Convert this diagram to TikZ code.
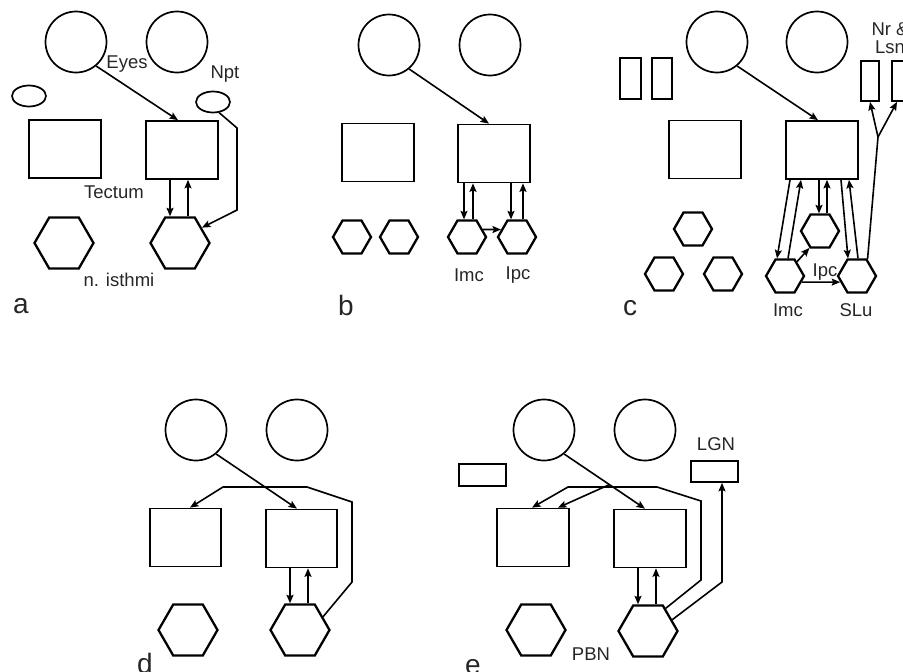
\documentclass[tikz,border=0pt]{standalone}
\usepackage{fontspec}
\setmainfont{Liberation Sans}
\usetikzlibrary{shapes.geometric,arrows.meta}
\tikzset{
  eye/.style={circle,draw,line width=1.7pt,minimum size=61pt,inner sep=0pt},
  oval/.style={ellipse,draw,line width=1.7pt,minimum width=34pt,minimum height=21pt,inner sep=0pt},
  box/.style={rectangle,draw,line width=1.7pt,minimum width=72pt,minimum height=58pt,inner sep=0pt},
  smallbox/.style={rectangle,draw,line width=1.7pt,inner sep=0pt},
  hexbig/.style={regular polygon,regular polygon sides=6,draw,line width=2.3pt,minimum size=59pt,inner sep=0pt},
  hexsmall/.style={regular polygon,regular polygon sides=6,draw,line width=2.3pt,minimum size=38pt,inner sep=0pt},
  lbl/.style={font=\fontsize{18.5}{18}\selectfont,inner sep=0pt,text=black!85},
  panel/.style={font=\fontsize{28}{30}\selectfont,inner sep=0pt,anchor=base,text=black!85},
  arr/.style={line width=1.6pt,-{Stealth[length=8.5pt,width=7pt,inset=1.5pt]}},
  ln/.style={line width=1.6pt}
}
\begin{document}
\begin{tikzpicture}[x=1pt,y=-1pt]
\useasboundingbox (0,0) rectangle (903,672);
% ---------- panel a ----------
\node[eye] (a1) at (76,42) {};
\node[eye] (a2) at (177,42) {};
\node[oval] (ao1) at (29,96) {};
\node[oval] (ao2) at (213,102) {};
\node[box] (ar1) at (65,149) {};
\node[box] (ar2) at (182,150) {};
\node[hexbig] (ah1) at (64,243) {};
\node[hexbig] (ah2) at (180,243) {};
\node[lbl] (aeyes) at (127,64) {Eyes};
\node[lbl] (anpt) at (225,74) {Npt};
\node[lbl] (atect) at (114,192) {Tectum};
\node[lbl] (aisth) at (119,280) {n. isthmi};
\node[panel] (alab) at (21,313) {a};
\draw[arr] (a1.-50) -- ([xshift=-4pt]ar2.north);
\draw[arr] ([xshift=-12pt]ar2.south) -- ([xshift=-12pt]ar2.south |- ah2.north);
\draw[arr] ([xshift=6pt]ar2.south |- ah2.north) -- ([xshift=6pt]ar2.south);
\draw[arr] (ao2.-60) -- (237,128) -- (237,210) -- (ah2.35);
% ---------- panel b ----------
\node[eye] (b1) at (389,45) {};
\node[eye] (b2) at (490,45) {};
\node[box] (br1) at (378,152.5) {};
\node[box] (br2) at (494,153.5) {};
\node[hexsmall] (bh1) at (352,237) {};
\node[hexsmall] (bh2) at (399,237) {};
\node[hexsmall] (bh3) at (467,237) {};
\node[hexsmall] (bh4) at (517,237) {};
\node[lbl] (bimc) at (469,275) {Imc};
\node[lbl] (bipc) at (518,275) {Ipc};
\node[panel] (blab) at (346,315) {b};
\draw[arr] (b1.-50) -- ([xshift=-5pt]br2.north);
\draw[arr] ([xshift=-30pt]br2.south) -- ([xshift=-30pt]br2.south |- bh3.north);
\draw[arr] ([xshift=-21pt]br2.south |- bh3.north) -- ([xshift=-21pt]br2.south);
\draw[arr] ([xshift=17pt]br2.south) -- ([xshift=17pt]br2.south |- bh4.north);
\draw[arr] ([xshift=29pt]br2.south |- bh4.north) -- ([xshift=29pt]br2.south);
\draw[arr] (bh3.25) -- (bh4.155);
% ---------- panel c ----------
\node[eye] (c1) at (717,42) {};
\node[eye] (c2) at (817,42) {};
\node[smallbox,minimum width=21pt,minimum height=41pt] (ct1) at (630.5,78.5) {};
\node[smallbox,minimum width=20pt,minimum height=41pt] (ct2) at (662,78.5) {};
\node[smallbox,minimum width=18pt,minimum height=40pt] (cn1) at (870,81) {};
\node[smallbox,minimum width=18pt,minimum height=40pt] (cn2) at (901,81) {};
\node[lbl,align=center,font=\fontsize{18.5}{18}\selectfont] (cnr) at (890,38) {Nr \&\\Lsn};
\node[box] (cr1) at (705,149.5) {};
\node[box] (cr2) at (822,150) {};
\node[hexsmall] (ch1) at (693,229) {};
\node[hexsmall] (ch2) at (664,274) {};
\node[hexsmall] (ch3) at (723,274) {};
\node[hexsmall] (ci) at (785,276) {};
\node[hexsmall] (cm) at (820,231) {};
\node[hexsmall] (cs) at (857,276) {};
\node[lbl] (cipc) at (825,272) {Ipc};
\node[lbl] (cimc) at (788,310) {Imc};
\node[lbl] (cslu) at (856,310) {SLu};
\node[panel] (clab) at (630,315) {c};
\draw[arr] (c1.-50) -- ([xshift=-4pt]cr2.north);
\draw[arr] ([xshift=-32pt]cr2.south) -- ([xshift=-8pt]ci.north);
\draw[arr] ([xshift=3pt]ci.north) -- ([xshift=-21pt]cr2.south);
\draw[arr] ([xshift=-3pt]cr2.south) -- ([xshift=-3pt]cr2.south |- cm.north);
\draw[arr] ([xshift=5pt]cr2.south |- cm.north) -- ([xshift=5pt]cr2.south);
\draw[arr] ([xshift=19pt]cr2.south) -- ([xshift=-9pt]cs.north);
\draw[arr] ([xshift=1pt]cs.north) -- ([xshift=27pt]cr2.south);
\draw[arr] (ci.50) -- (cm.238);
\draw[arr] (ci.-20) -- (cs.200);
\coordinate (cbr) at (878,137);
\draw[ln] (cs.58) -- (cbr);
\draw[arr] (cbr) -- (cn1.south);
\draw[arr] (cbr) -- ([xshift=-4pt]cn2.south);
% ---------- panel d ----------
\node[eye] (d1) at (196,430) {};
\node[eye] (d2) at (297,430) {};
\node[box,minimum width=71pt] (dr1) at (185.5,537.5) {};
\node[box,minimum width=71pt] (dr2) at (301.5,538.5) {};
\node[hexbig] (dh1) at (188,630) {};
\node[hexbig] (dh2) at (300,630) {};
\node[panel] (dlab) at (145,673.5) {d};
\draw[arr] (d1.-50) -- ([xshift=-4.5pt]dr2.north);
\draw[arr] ([xshift=-11.5pt]dr2.south) -- ([xshift=-11.5pt]dr2.south |- dh2.north);
\draw[arr] ([xshift=6.5pt]dr2.south |- dh2.north) -- ([xshift=6.5pt]dr2.south);
\draw[arr] (dh2.30) -- (352,582) -- (352,502) -- (307,487) -- (223,487) -- ([xshift=4.5pt]dr1.north);
% ---------- panel e ----------
\node[eye] (e1) at (544,430) {};
\node[eye] (e2) at (645,430) {};
\node[smallbox,minimum width=47pt,minimum height=22pt] (esb) at (482.5,475) {};
\node[smallbox,minimum width=47pt,minimum height=21pt] (elgn) at (714.5,471.5) {};
\node[lbl] (elgnt) at (716,444) {LGN};
\node[box] (er1) at (533,537.5) {};
\node[box] (er2) at (650,538.5) {};
\node[hexbig] (eh1) at (536,630) {};
\node[hexbig] (eh2) at (648,631) {};
\node[lbl] (epbn) at (591,654) {PBN};
\node[panel] (elab) at (473,674.5) {e};
\draw[arr] (e1.-50) -- ([xshift=-5pt]er2.north) coordinate[pos=0.56] (eb);
\draw[arr] (eb) -- ([xshift=25pt]er1.north);
\draw[arr] ([xshift=-12pt]er2.south) -- ([xshift=-12pt]er2.south |- eh2.north);
\draw[arr] ([xshift=6pt]er2.south |- eh2.north) -- ([xshift=6pt]er2.south);
\draw[arr] (eh2.52) -- (701,580) -- (701,501) -- (657,487) -- (568,487) -- ([xshift=-1pt]er1.north);
\draw[arr] (eh2.25) -- (722,582) -- ([xshift=7.5pt]elgn.south);
\end{tikzpicture}
\end{document}
